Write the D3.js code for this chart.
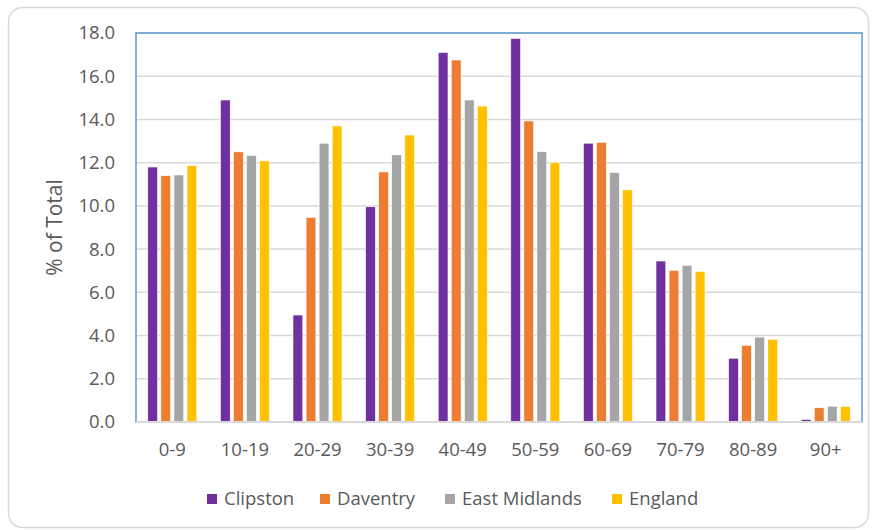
<!DOCTYPE html>
<html>
<head>
<meta charset="utf-8">
<script src="https://cdn.jsdelivr.net/npm/d3@7"></script>
<style>
  body { margin: 0; background: #fff; }
  text { font-family: "Open Sans", "Noto Sans", sans-serif; fill: #595959; }
</style>
</head>
<body>
<div id="chart"></div>
<script>
// age bands
const ageGroups = ["0-9", "10-19", "20-29", "30-39", "40-49", "50-59", "60-69", "70-79", "80-89", "90+"];
const seriesNames = ["Clipston", "Daventry", "East Midlands", "England"];

// % of total per area
const clipston     = [11.8, 14.9, 4.95, 9.96, 17.1, 17.75, 12.9, 7.45, 2.95, 0.12];
const daventry     = [11.4, 12.5, 9.47, 11.57, 16.75, 13.93, 12.94, 7.02, 3.55, 0.66];
const eastMidlands = [11.43, 12.34, 12.9, 12.36, 14.9, 12.51, 11.54, 7.25, 3.93, 0.73];
const england      = [11.86, 12.08, 13.7, 13.28, 14.62, 12.0, 10.74, 6.97, 3.83, 0.72];

const yTicks = [0, 2, 4, 6, 8, 10, 12, 14, 16, 18];
const colors = ["#7030A0", "#ED7D31", "#A5A5A5", "#FFC000"];

const seriesValues = [clipston, daventry, eastMidlands, england];
const data = ageGroups.map((g, i) => ({
  group: g,
  values: seriesNames.map((s, j) => ({ series: s, value: seriesValues[j][i] }))
}));

const W = 876, H = 530;
const plot = { left: 136, right: 862, top: 33, bottom: 422 };

const svg = d3.select("#chart").append("svg")
  .attr("width", W)
  .attr("height", H);

// outer frame
svg.append("rect")
  .attr("x", 8.5).attr("y", 7.5)
  .attr("width", 860).attr("height", 520)
  .attr("rx", 14)
  .attr("fill", "#fff")
  .attr("stroke", "#d9d9d9")
  .attr("stroke-width", 1.5);

const x0 = d3.scaleBand()
  .domain(ageGroups)
  .range([plot.left, plot.right])
  .paddingInner(0.325)
  .paddingOuter(0.1625);

const x1 = d3.scaleBand()
  .domain(seriesNames)
  .range([0, x0.bandwidth()])
  .paddingInner(0.25);

const y = d3.scaleLinear()
  .domain([0, 18])
  .range([plot.bottom, plot.top]);

// gridlines
svg.append("g")
  .selectAll("line")
  .data(yTicks)
  .enter()
  .append("line")
  .attr("x1", plot.left)
  .attr("x2", plot.right)
  .attr("y1", d => y(d))
  .attr("y2", d => y(d))
  .attr("stroke", "#d9d9d9")
  .attr("stroke-width", 1.5);

// y axis labels
const yAxis = svg.append("g")
  .attr("transform", `translate(${plot.left},0)`)
  .call(d3.axisLeft(y).tickValues(yTicks).tickFormat(d3.format(".1f")).tickSize(0).tickPadding(21));
yAxis.select(".domain").remove();
yAxis.selectAll("text").style("font-size", "18.5px").attr("fill", "#595959");

// bars
const groups = svg.append("g")
  .selectAll("g")
  .data(data)
  .enter()
  .append("g")
  .attr("transform", d => `translate(${x0(d.group)},0)`);

groups.selectAll("rect")
  .data(d => d.values)
  .enter()
  .append("rect")
  .attr("x", d => x1(d.series))
  .attr("y", d => y(d.value))
  .attr("width", x1.bandwidth())
  .attr("height", d => y(0) - y(d.value))
  .attr("fill", (d, i) => colors[i])
  .attr("stroke", "#fff")
  .attr("stroke-width", 0.6);

// x axis labels
const xAxis = svg.append("g")
  .attr("transform", `translate(0,${plot.bottom})`)
  .call(d3.axisBottom(d3.scaleBand().domain(ageGroups).range([plot.left, plot.right])).tickSize(0).tickPadding(21));
xAxis.select(".domain").remove();
xAxis.selectAll("text").style("font-size", "18.5px").attr("fill", "#595959");

// plot border (blue)
svg.append("rect")
  .attr("x", plot.left).attr("y", plot.top)
  .attr("width", plot.right - plot.left)
  .attr("height", plot.bottom - plot.top)
  .attr("fill", "none")
  .attr("stroke", "#5B9BD5")
  .attr("stroke-width", 1.5);

// baseline
svg.append("line")
  .attr("x1", plot.left).attr("x2", plot.right)
  .attr("y1", y(0)).attr("y2", y(0))
  .attr("stroke", "#d9d9d9")
  .attr("stroke-width", 2);

// y axis title
svg.append("text")
  .attr("transform", `translate(62,${(plot.top + plot.bottom) / 2}) rotate(-90)`)
  .attr("text-anchor", "middle")
  .style("font-size", "21px")
  .text("% of Total");

// legend
const legendX = [207, 320, 445, 612];
const legend = svg.append("g")
  .selectAll("g")
  .data(seriesNames)
  .enter()
  .append("g")
  .attr("transform", (d, i) => `translate(${legendX[i]},499)`);

legend.append("rect")
  .attr("x", 0).attr("y", -5)
  .attr("width", 10).attr("height", 10)
  .attr("fill", (d, i) => colors[i]);

legend.append("text")
  .attr("x", 17)
  .attr("dy", "0.35em")
  .style("font-size", "18.5px")
  .text(d => d);
</script>
</body>
</html>
